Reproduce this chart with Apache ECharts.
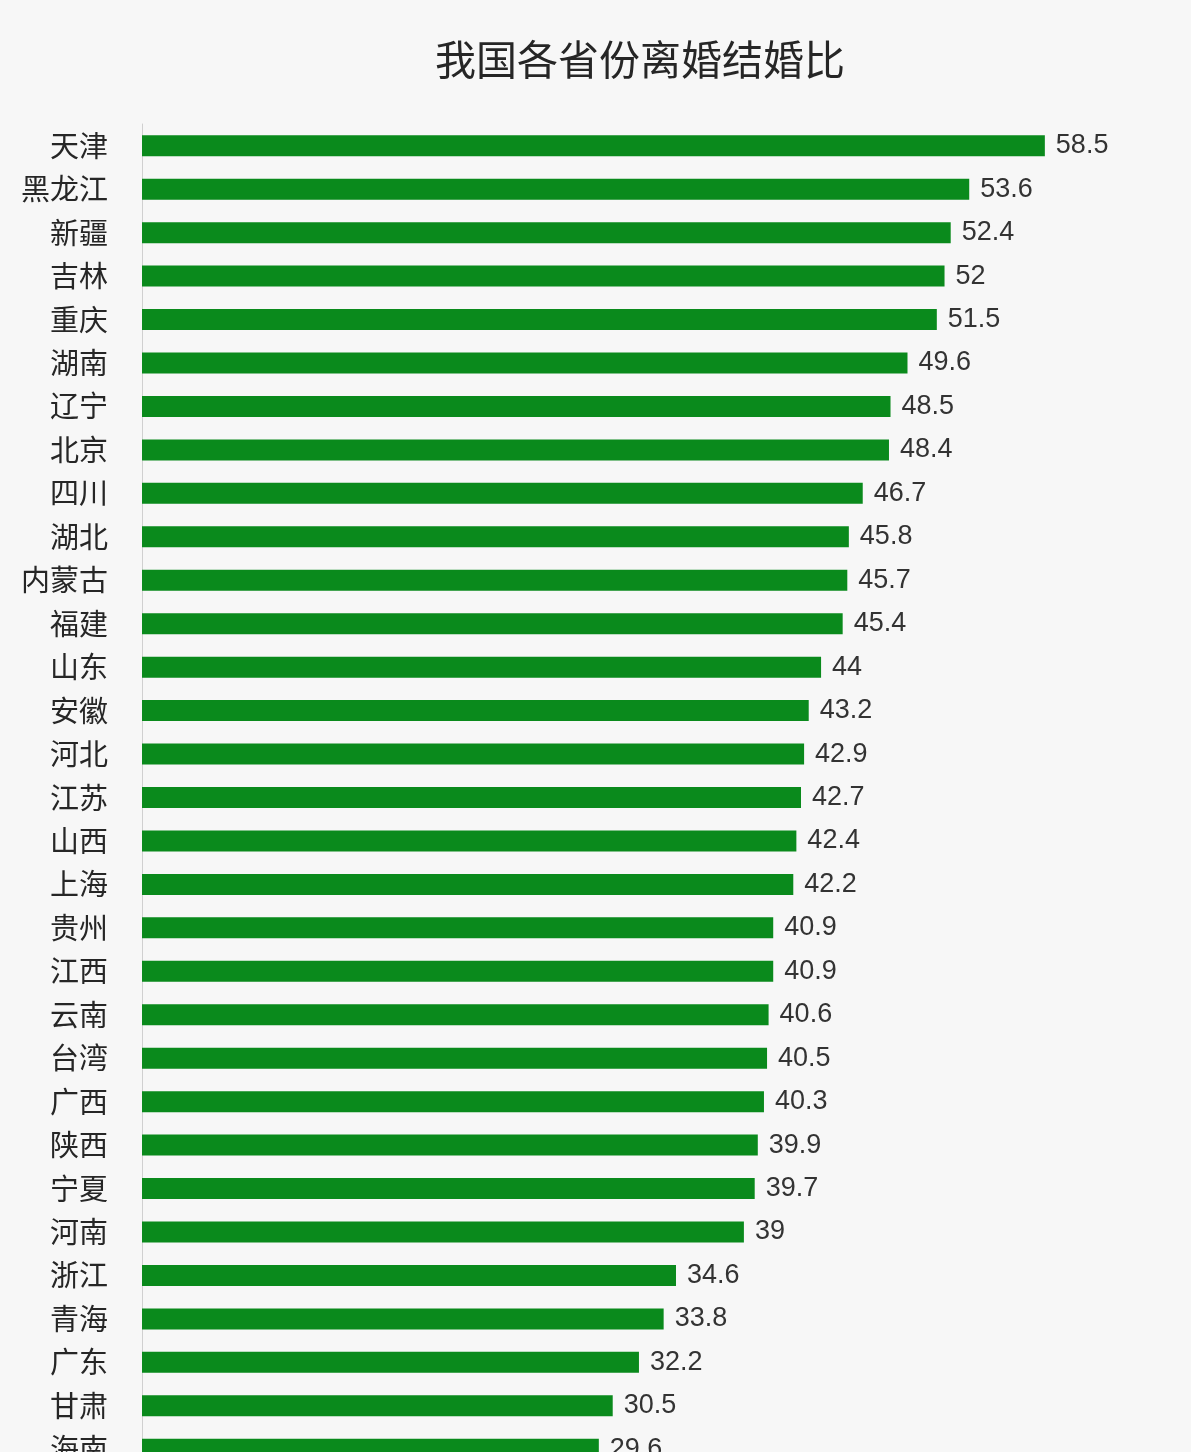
<!DOCTYPE html>
<html>
<head>
<meta charset="utf-8">
<script src="https://cdn.jsdelivr.net/npm/echarts@6/dist/echarts.min.js"></script>
<style>
html,body{margin:0;padding:0;background:#f7f7f7;overflow:hidden;}
#chart{width:1191px;height:1500px;}
</style>
</head>
<body>
<div id="chart"></div>
<script>
const titleText = '我国各省份离婚结婚比';
const provinces = ['天津','黑龙江','新疆','吉林','重庆','湖南','辽宁','北京','四川','湖北','内蒙古','福建','山东','安徽','河北','江苏','山西','上海','贵州','江西','云南','台湾','广西','陕西','宁夏','河南','浙江','青海','广东','甘肃','海南'];
const ratios = [58.5,53.6,52.4,52,51.5,49.6,48.5,48.4,46.7,45.8,45.7,45.4,44,43.2,42.9,42.7,42.4,42.2,40.9,40.9,40.6,40.5,40.3,39.9,39.7,39,34.6,33.8,32.2,30.5,29.6];

const chart = echarts.init(document.getElementById('chart'));
chart.setOption({
  backgroundColor: '#f7f7f7',
  animation: false,
  title: {
    text: titleText,
    left: 635, top: 34,
    textAlign: 'center',
    textStyle: {fontFamily: 'Noto Sans CJK SC', fontSize: 41, fontWeight: 'normal', color: '#262626'}
  },
  grid: {left: 142, top: 124, width: 926, height: 1347, outerBoundsMode: 'none'},
  xAxis: {
    type: 'value', min: 0, max: 60,
    show: false
  },
  yAxis: {
    type: 'category', data: provinces, inverse: true,
    axisLine: {show: true, lineStyle: {color: '#d0d0d0', width: 1}},
    axisTick: {show: false},
    axisLabel: {margin: 34, fontFamily: 'Noto Sans CJK SC', fontSize: 29, color: '#262626', padding: [10,0,0,0]}
  },
  series: [{
    type: 'bar',
    data: ratios,
    barWidth: 21,
    itemStyle: {color: '#0a8a1c'},
    label: {
      show: true, position: 'right', distance: 11,
      fontFamily: 'Liberation Sans', fontSize: 27, color: '#333'
    }
  }]
});
</script>
</body>
</html>
